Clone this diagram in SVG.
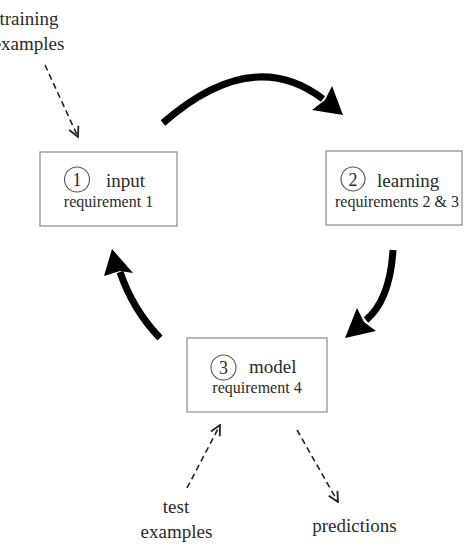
<svg xmlns="http://www.w3.org/2000/svg" width="466" height="552" viewBox="0 0 466 552">
  <style>
    .box { fill: #fff; stroke: #8a8a8a; stroke-width: 1.2; }
    .num { fill: none; stroke: #555; stroke-width: 1.1; }
    text { font-family: "Liberation Serif", "Times New Roman", serif; fill: #2a2a2a; }
    .title { font-size: 19px; }
    .sub { font-size: 16px; }
    .digit { font-size: 18px; text-anchor: middle; }
    .label { font-size: 19px; text-anchor: middle; }
    .flow { fill: none; stroke: #000; stroke-width: 7; stroke-linecap: butt; }
    .head { fill: #000; }
    .dash { fill: none; stroke: #222; stroke-width: 1.6; stroke-dasharray: 6 4; marker-end: url(#open); }
  </style>
  <defs>
    <marker id="open" viewBox="0 0 12 12" refX="11" refY="6" markerWidth="12" markerHeight="12" markerUnits="userSpaceOnUse" orient="auto">
      <path d="M1,1 L11,6 L1,11" fill="none" stroke="#222" stroke-width="1.8"/>
    </marker>
  </defs>

  <rect width="466" height="552" fill="#fff"/>

  <g id="connectors">
    <!-- cycle: input -> learning -> model -> input -->
    <path class="flow" d="M163,123 Q252,45 323,99"/>
    <polygon class="head" points="343,115 332,86 325,100 312,110"/>
    <path class="flow" d="M393,250 Q390,300 366,320"/>
    <polygon class="head" points="345,338 357,308 364,322 376,331"/>
    <path class="flow" d="M160,338 Q133,310 120,272"/>
    <polygon class="head" points="112,249 104,276 120,271 133,273"/>
    <!-- data in/out -->
    <path class="dash" d="M45,65 L78,137"/>
    <path class="dash" d="M187,488 L220,425"/>
    <path class="dash" d="M297,430 L338,502"/>
  </g>

  <g id="input">
    <rect class="box" x="40" y="152" width="137" height="74"/>
    <circle class="num" cx="77" cy="179.5" r="12.5"/>
    <text class="digit" x="77" y="186">1</text>
    <text class="title" x="106" y="187">input</text>
    <text class="sub" x="108.5" y="207" text-anchor="middle">requirement 1</text>
  </g>

  <g id="learning">
    <rect class="box" x="326" y="151" width="136" height="74"/>
    <circle class="num" cx="353" cy="179" r="12"/>
    <text class="digit" x="353" y="185.5">2</text>
    <text class="title" x="377" y="187">learning</text>
    <text class="sub" x="397" y="207" text-anchor="middle">requirements 2 &amp; 3</text>
  </g>

  <g id="model">
    <rect class="box" x="187" y="338" width="140" height="74"/>
    <circle class="num" cx="223.5" cy="367.5" r="12.5"/>
    <text class="digit" x="223.5" y="374">3</text>
    <text class="title" x="249" y="373">model</text>
    <text class="sub" x="257" y="393" text-anchor="middle">requirement 4</text>
  </g>

  <g id="training-examples">
    <text class="label" x="29" y="25">training</text>
    <text class="label" x="28.5" y="50">examples</text>
  </g>

  <g id="test-examples">
    <text class="label" x="176" y="513">test</text>
    <text class="label" x="176.5" y="538">examples</text>
  </g>

  <g id="predictions">
    <text class="label" x="354.5" y="532">predictions</text>
  </g>
</svg>
